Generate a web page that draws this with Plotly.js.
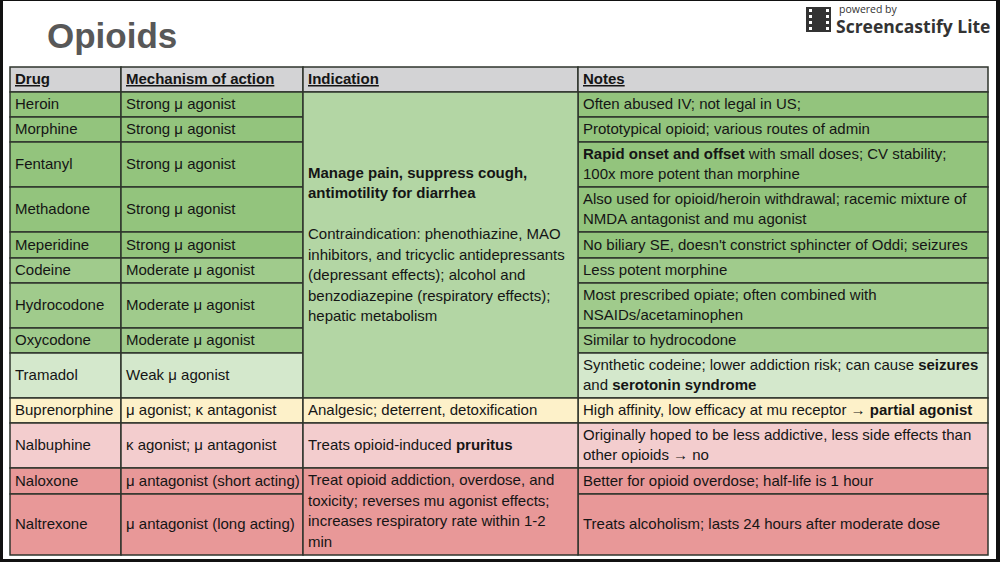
<!DOCTYPE html>
<html>
<head>
<meta charset="utf-8">
<script src="https://cdn.plot.ly/plotly-3.0.1.min.js"></script>
<style>
  body { margin: 0; background: #111; }
  #chart { width: 1000px; height: 562px; }
</style>
</head>
<body>
<div id="chart"></div>
<script>
// Table contents
var headers = ['Drug', 'Mechanism of action', 'Indication', 'Notes'];

var drugs = ['Heroin', 'Morphine', 'Fentanyl', 'Methadone', 'Meperidine', 'Codeine',
	'Hydrocodone', 'Oxycodone', 'Tramadol', 'Buprenorphine', 'Nalbuphine', 'Naloxone', 'Naltrexone'];

var mechanisms = ['Strong μ agonist', 'Strong μ agonist', 'Strong μ agonist', 'Strong μ agonist',
	'Strong μ agonist', 'Moderate μ agonist', 'Moderate μ agonist', 'Moderate μ agonist',
	'Weak μ agonist', 'μ agonist; κ antagonist', 'κ agonist; μ antagonist',
	'μ antagonist (short acting)', 'μ antagonist (long acting)'];

// "|" = line break inside a cell
var notes = [
	'Often abused IV; not legal in US;',
	'Prototypical opioid; various routes of admin',
	'<b>Rapid onset and offset</b> with small doses; CV stability;|100x more potent than morphine',
	'Also used for opioid/heroin withdrawal; racemic mixture of|NMDA antagonist and mu agonist',
	"No biliary SE, doesn't constrict sphincter of Oddi; seizures",
	'Less potent morphine',
	'Most prescribed opiate; often combined with|NSAIDs/acetaminophen',
	'Similar to hydrocodone',
	'Synthetic codeine; lower addiction risk; can cause <b>seizures</b>|and <b>serotonin syndrome</b>',
	'High affinity, low efficacy at mu receptor → <b>partial agonist</b>',
	'Originally hoped to be less addictive, less side effects than|other opioids → no',
	'Better for opioid overdose; half-life is 1 hour',
	'Treats alcoholism; lasts 24 hours after moderate dose'
];

var indications = [
	'<b>Manage pain, suppress cough,</b>|<b>antimotility for diarrhea</b>||Contraindication: phenothiazine, MAO|inhibitors, and tricyclic antidepressants|(depressant effects); alcohol and|benzodiazepine (respiratory effects);|hepatic metabolism',
	'Analgesic; deterrent, detoxification',
	'Treats opioid-induced <b>pruritus</b>',
	'Treat opioid addiction, overdose, and|toxicity; reverses mu agonist effects;|increases respiratory rate within 1-2|min'
];
// first and last row each indication covers
var indicationSpans = [[0, 8], [9, 9], [10, 10], [11, 12]];

var rowGroups = ['strong', 'strong', 'strong', 'strong', 'strong', 'moderate', 'moderate',
	'moderate', 'weak', 'partial', 'mixed', 'antagonist', 'antagonist'];

// Layout / style
var colEdges = [10, 121, 303, 578, 988];
var headerTop = 67;
var rowEdges = [92, 117, 142, 187, 232, 258, 283, 328, 353, 398, 423, 468, 494, 555];
var lineGap = 20.5;
var groupColor = {
	strong: '#93c47d',
	moderate: '#a0cb8c',
	weak: '#d4e8cc',
	partial: '#fdf1c9',
	mixed: '#f3cdce',
	antagonist: '#e89898'
};
var indicationColor = ['#b3d6a4', '#fdf1c9', '#f3cdce', '#e89898'];
var headerColor = '#d3d3d5';
var borderColor = '#2f352c';
var textFont = 'Liberation Sans, Arial, sans-serif';

function drawTable() {
	var shapes = [];
	var annotations = [];

	function cell(x0, x1, y0, y1, fill) {
		shapes.push({
			type: 'rect', xref: 'x', yref: 'y', x0: x0, x1: x1, y0: y0, y1: y1,
			fillcolor: fill, line: {color: borderColor, width: 1.5}, layer: 'below'
		});
	}

	function cellText(str, x0, y0, y1) {
		var lines = str.split('|');
		var mid = (y0 + y1) / 2;
		for (var i = 0; i < lines.length; i++) {
			if (lines[i] === '') continue;
			annotations.push({
				xref: 'x', yref: 'y', x: x0 + 3, y: mid + (i - (lines.length - 1) / 2) * lineGap - 0.8,
				text: lines[i], showarrow: false, xanchor: 'left', yanchor: 'middle', align: 'left',
				font: {family: textFont, size: 15, color: '#151515'}
			});
		}
	}

	// page frame (white sheet on dark screen edge)
	shapes.push({type: 'rect', xref: 'x', yref: 'y', x0: 3, x1: 996, y0: 1, y1: 559,
		fillcolor: '#ffffff', line: {width: 0}, layer: 'below'});

	// header row
	for (var c = 0; c < 4; c++) {
		cell(colEdges[c], colEdges[c + 1], headerTop, rowEdges[0], headerColor);
		cellText('<b><span style="text-decoration:underline">' + headers[c] + '</span></b>',
			colEdges[c], headerTop, rowEdges[0]);
	}

	// body rows: drug, mechanism, notes columns
	for (var r = 0; r < drugs.length; r++) {
		var y0 = rowEdges[r], y1 = rowEdges[r + 1];
		var fill = groupColor[rowGroups[r]];
		cell(colEdges[0], colEdges[1], y0, y1, fill);
		cell(colEdges[1], colEdges[2], y0, y1, fill);
		cell(colEdges[3], colEdges[4], y0, y1, fill);
		cellText(drugs[r], colEdges[0], y0, y1);
		cellText(mechanisms[r], colEdges[1], y0, y1);
		cellText(notes[r], colEdges[3], y0, y1);
	}

	// merged indication cells
	for (var k = 0; k < indications.length; k++) {
		var spanTop = rowEdges[indicationSpans[k][0]];
		var spanBottom = rowEdges[indicationSpans[k][1] + 1];
		cell(colEdges[2], colEdges[3], spanTop, spanBottom, indicationColor[k]);
		cellText(indications[k], colEdges[2], spanTop, spanBottom);
	}

	// title
	annotations.push({
		xref: 'x', yref: 'y', x: 45, y: 35, text: '<b>Opioids</b>', showarrow: false,
		xanchor: 'left', yanchor: 'middle', font: {family: textFont, size: 35, color: '#585858'}
	});

	// screencastify watermark
	shapes.push({type: 'rect', xref: 'x', yref: 'y', x0: 806, x1: 831, y0: 7, y1: 32,
		fillcolor: '#333333', line: {width: 0}});
	for (var h = 0; h < 4; h++) {
		[809, 826].forEach(function (hx) {
			shapes.push({type: 'rect', xref: 'x', yref: 'y', x0: hx, x1: hx + 3,
				y0: 9 + h * 6, y1: 12 + h * 6, fillcolor: '#ffffff', line: {width: 0}});
		});
	}
	annotations.push({
		xref: 'x', yref: 'y', x: 837, y: 9, text: 'powered by', showarrow: false,
		xanchor: 'left', yanchor: 'middle', font: {family: 'Open Sans, sans-serif', size: 10.5, color: '#333333'}
	});
	annotations.push({
		xref: 'x', yref: 'y', x: 834, y: 25.5, text: '<b>Screencastify Lite</b>', showarrow: false,
		xanchor: 'left', yanchor: 'middle', font: {family: 'Open Sans, sans-serif', size: 17.5, color: '#333333'}
	});

	var layout = {
		width: 1000, height: 562,
		margin: {l: 0, r: 0, t: 0, b: 0},
		paper_bgcolor: '#111111', plot_bgcolor: 'rgba(0,0,0,0)',
		xaxis: {range: [0, 1000], visible: false, fixedrange: true},
		yaxis: {range: [562, 0], visible: false, fixedrange: true},
		shapes: shapes,
		annotations: annotations,
		showlegend: false
	};

	Plotly.newPlot('chart', [], layout, {displayModeBar: false, staticPlot: true});
}

drawTable();
</script>
</body>
</html>
